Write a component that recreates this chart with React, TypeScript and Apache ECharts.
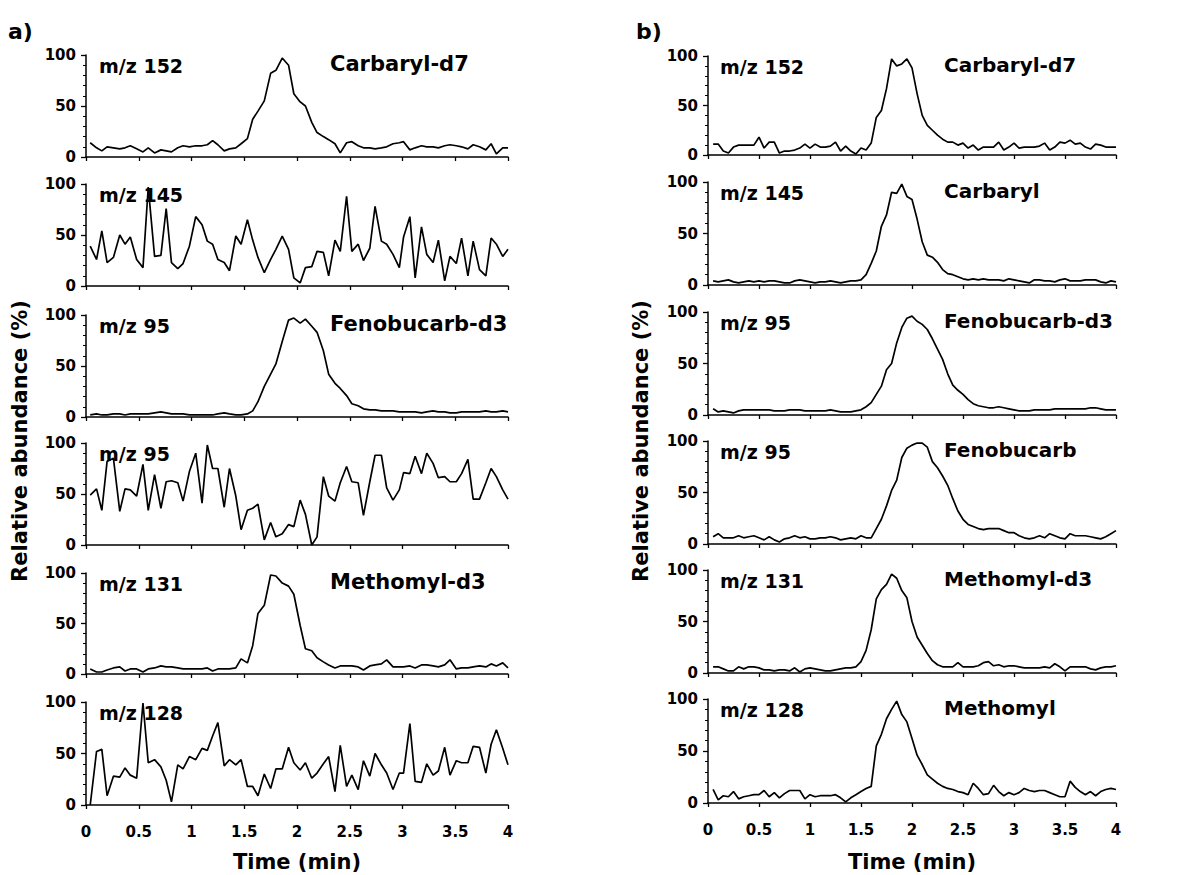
import React, { useEffect, useRef } from "react";
import * as echarts from "echarts";

// ---------- data ----------
// scan times (min) of the left column (a) and right column (b)
const leftTimes = [0.04,0.10,0.15,0.20,0.26,0.32,0.37,0.42,0.48,0.54,0.59,0.65,0.71,0.76,0.81,0.87,0.92,0.98,1.04,1.10,1.15,1.20,1.25,1.31,1.36,1.42,1.47,1.53,1.58,1.63,1.69,1.75,1.80,1.86,1.92,1.97,2.03,2.08,2.14,2.19,2.25,2.30,2.36,2.41,2.47,2.52,2.58,2.63,2.69,2.74,2.80,2.85,2.91,2.97,3.01,3.07,3.12,3.18,3.23,3.29,3.34,3.40,3.45,3.51,3.56,3.62,3.67,3.73,3.79,3.84,3.89,3.95,4.00];
const rightTimes = [0.05,0.10,0.15,0.20,0.25,0.30,0.35,0.40,0.45,0.50,0.55,0.60,0.65,0.70,0.75,0.80,0.85,0.90,0.95,1.00,1.05,1.10,1.15,1.20,1.25,1.30,1.35,1.40,1.45,1.50,1.55,1.60,1.65,1.70,1.75,1.80,1.85,1.90,1.95,2.00,2.05,2.10,2.15,2.20,2.25,2.30,2.35,2.40,2.45,2.50,2.55,2.60,2.65,2.70,2.75,2.80,2.85,2.90,2.95,3.00,3.05,3.10,3.15,3.20,3.25,3.30,3.35,3.40,3.45,3.50,3.55,3.60,3.65,3.70,3.75,3.80,3.85,3.90,3.95,4.00];

// a) control sample
const aMz152 = [14,9,6,10,9,8,9,11,8,5, 9,4,7,6,5,9,11,10,11,11, 12,16,12,6,8,9,13,18,37,45, 55,82,85,97,90,62,54,50,34,24, 20,17,13,4,14,15,11,9,9,8, 9,10,13,14,15,7,9,11,10,10, 9,11,12,11,10,8,12,10,7,13, 3,9,9];
const aMz145 = [39,26,54,23,28,50,41,48,26,18, 97,29,30,76,23,17,22,39,68,60, 44,41,26,23,15,49,41,65,45,28, 13,26,36,49,36,8,3,18,19,34, 33,10,45,34,88,34,41,25,37,78, 44,41,31,18,48,68,8,58,31,23, 45,5,29,22,47,10,44,16,10,47, 41,29,36];
const aMz95d = [2,3,2,2,3,3,2,3,3,3, 3,4,5,4,3,3,3,2,2,2, 2,2,3,4,3,2,2,3,6,15, 30,42,52,74,95,97,92,96,89,83, 65,42,33,28,21,13,11,8,7,7, 6,6,6,5,5,5,5,4,5,6, 5,5,4,4,5,5,5,5,6,5, 5,6,5];
const aMz95 = [49,55,34,82,85,33,55,54,48,79, 34,69,36,62,63,61,43,72,90,41, 98,75,75,37,75,48,15,34,36,40, 5,22,8,11,20,18,44,30,0,8, 67,48,43,61,77,62,61,29,62,88, 88,56,44,54,71,70,87,70,90,80, 66,67,62,62,70,84,45,45,61,75, 67,54,45];
const aMz131 = [5,2,2,4,6,7,3,5,5,2, 5,6,8,7,7,6,5,5,5,5, 6,3,5,5,5,6,15,11,28,60, 68,98,97,90,87,79,48,25,23,16, 12,9,6,8,8,8,7,4,8,9, 10,14,7,7,7,8,6,9,9,8, 7,9,14,5,6,6,7,8,7,10, 8,11,6];
const aMz128 = [0,52,54,9,28,27,36,29,26,99, 41,44,37,24,3,39,35,47,44,55, 53,67,80,38,44,39,44,18,18,9, 30,16,35,35,56,41,34,41,26,31, 40,47,13,58,18,29,15,43,28,50, 39,31,15,31,31,79,23,22,40,29, 33,56,29,43,41,41,57,56,31,59, 73,55,39];

// b) spiked sample
const bMz152 = [11,11,4,2,8,10,10,10,10,18, 7,13,13,2,4,4,5,7,11,7, 11,8,8,9,13,4,9,4,1,7, 5,12,38,45,67,97,90,92,97,88, 62,40,30,25,20,16,13,13,10,12, 7,10,5,8,8,8,13,5,8,12, 7,8,8,8,9,12,5,8,13,12, 15,11,12,8,6,11,10,8,8,8];
const bMz145 = [4,3,4,5,3,2,3,4,3,4, 3,4,4,3,2,2,4,5,4,3, 2,3,3,4,3,2,3,4,4,5, 10,21,33,57,68,90,89,98,86,83, 64,42,29,27,22,15,11,10,8,6, 5,6,5,6,5,5,5,4,6,5, 4,3,2,5,5,4,4,3,5,6, 4,4,4,5,5,5,3,2,4,3];
const bMz95d = [6,3,4,3,2,4,5,5,5,5, 5,5,4,4,4,5,5,5,4,4, 4,4,4,5,4,3,3,3,4,5, 8,12,20,28,44,50,70,85,94,96, 91,88,83,74,64,54,40,29,24,20, 15,11,9,8,7,7,8,7,6,5, 4,4,4,5,5,5,5,6,6,6, 6,6,6,6,7,7,6,5,5,5];
const bMz95 = [7,10,6,6,6,8,6,7,8,6, 4,7,4,2,5,6,8,6,7,5, 5,6,6,7,6,4,5,6,5,8, 6,6,15,24,37,52,62,84,93,96, 98,98,94,80,74,66,57,44,32,24, 19,17,15,14,15,15,15,13,11,11, 8,6,5,6,8,6,10,8,6,5, 10,8,8,8,7,6,5,7,10,13];
const bMz131 = [6,6,4,2,2,6,4,6,6,5, 3,3,2,3,3,2,5,1,4,5, 4,3,2,2,3,4,5,5,6,11, 22,42,72,81,86,96,92,80,73,50, 35,27,19,12,8,6,6,6,10,6, 6,6,7,10,11,7,8,6,7,7, 6,5,5,5,5,6,5,9,6,2, 6,6,6,6,4,3,5,6,6,7];
const bMz128 = [13,3,7,6,11,4,6,7,8,8, 12,6,10,5,9,12,12,12,4,8, 6,7,7,7,8,5,1,5,8,11, 14,16,55,66,81,90,98,85,78,62, 46,37,27,23,19,16,14,13,11,10, 8,19,14,8,9,17,11,7,10,8, 10,14,12,11,12,12,10,8,6,6, 21,15,11,8,11,7,11,13,14,13];

const leftIons = ["m/z 152", "m/z 145", "m/z 95", "m/z 95", "m/z 131", "m/z 128"];
const leftNames = ["Carbaryl-d7", "", "Fenobucarb-d3", "", "Methomyl-d3", ""];
const rightIons = ["m/z 152", "m/z 145", "m/z 95", "m/z 95", "m/z 131", "m/z 128"];
const rightNames = ["Carbaryl-d7", "Carbaryl", "Fenobucarb-d3", "Fenobucarb", "Methomyl-d3", "Methomyl"];

const xTickLabels = ["0", "0.5", "1", "1.5", "2", "2.5", "3", "3.5", "4"];
const yTickLabels = ["0", "50", "100"];
const panelLetters = ["a)", "b)"];
const yTitle = "Relative abundance (%)";
const xTitle = "Time (min)";

const FONT = "DejaVu Sans";

export default function App() {
  const ref = useRef<HTMLDivElement>(null);

  useEffect(() => {
    if (!ref.current) return;
    const chart = echarts.init(ref.current, null, { renderer: "svg" });

    const columns = [
      {
        times: leftTimes,
        values: [aMz152, aMz145, aMz95d, aMz95, aMz131, aMz128],
        ions: leftIons,
        names: leftNames,
        left: 86,
        width: 422,
        tops: [55, 184, 315, 443, 573, 702],
        heights: [102, 102, 102, 102, 101, 103],
        ionX: 99,
        nameX: 330,
        nameSize: 21,
        letterX: 8,
        yTitleX: 20,
      },
      {
        times: rightTimes,
        values: [bMz152, bMz145, bMz95d, bMz95, bMz131, bMz128],
        ions: rightIons,
        names: rightNames,
        left: 708,
        width: 408,
        tops: [56, 182, 312, 441, 570, 699],
        heights: [99, 103, 103, 103, 103, 104],
        ionX: 720,
        nameX: 944,
        nameSize: 20,
        letterX: 636,
        yTitleX: 641,
      },
    ];

    const grid: any[] = [];
    const xAxis: any[] = [];
    const yAxis: any[] = [];
    const series: any[] = [];
    const elements: any[] = [];
    const black = "#000";

    columns.forEach((col, c) => {
      col.values.forEach((vals, r) => {
        const idx = grid.length;
        const bottomRow = r === col.values.length - 1;
        grid.push({ left: col.left, top: col.tops[r], width: col.width, height: col.heights[r] });
        xAxis.push({
          gridIndex: idx,
          type: "value",
          min: 0,
          max: 4,
          interval: 0.5,
          axisLine: { show: true, onZero: false, lineStyle: { color: black, width: 1.5 } },
          axisTick: { show: true, length: 4, lineStyle: { color: black, width: 1.3 } },
          splitLine: { show: false },
          axisLabel: {
            show: bottomRow,
            showMinLabel: true,
            showMaxLabel: true,
            margin: 19,
            color: black,
            fontFamily: FONT,
            fontWeight: "bold",
            fontSize: 15,
            formatter: (v: number) => xTickLabels[Math.round(v * 2)] ?? "",
          },
        });
        yAxis.push({
          gridIndex: idx,
          type: "value",
          min: 0,
          max: 100,
          interval: 50,
          axisLine: { show: true, lineStyle: { color: black, width: 1.5 } },
          axisTick: { show: true, length: 5, lineStyle: { color: black, width: 1.3 } },
          minorTick: { show: true, splitNumber: 5, length: 3, lineStyle: { color: black, width: 1 } },
          splitLine: { show: false },
          axisLabel: {
            margin: 10,
            color: black,
            fontFamily: FONT,
            fontWeight: "bold",
            fontSize: 15,
            formatter: (v: number) => yTickLabels[Math.round(v / 50)] ?? "",
          },
        });
        series.push({
          type: "line",
          xAxisIndex: idx,
          yAxisIndex: idx,
          symbol: "none",
          showSymbol: false,
          lineStyle: { color: black, width: 1.7 },
          data: col.times.map((t, j) => [t, vals[j]]),
        });
        elements.push({
          type: "text",
          x: col.ionX,
          y: col.tops[r] + 11,
          style: {
            text: col.ions[r],
            fill: black,
            fontFamily: FONT,
            fontWeight: "bold",
            fontSize: 19,
            align: "left",
            verticalAlign: "middle",
          },
        });
        if (col.names[r]) {
          elements.push({
            type: "text",
            x: col.nameX,
            y: col.tops[r] + 9,
            style: {
              text: col.names[r],
              fill: black,
              fontFamily: FONT,
              fontWeight: "bold",
              fontSize: col.nameSize,
              align: "left",
              verticalAlign: "middle",
            },
          });
        }
      });

      elements.push({
        type: "text",
        x: col.letterX,
        y: 31,
        style: {
          text: panelLetters[c],
          fill: black,
          fontFamily: FONT,
          fontWeight: "bold",
          fontSize: 22,
          align: "left",
          verticalAlign: "middle",
        },
      });
      elements.push({
        type: "text",
        x: col.yTitleX,
        y: 441,
        rotation: Math.PI / 2,
        style: {
          text: yTitle,
          fill: black,
          fontFamily: FONT,
          fontWeight: "bold",
          fontSize: 21,
          align: "center",
          verticalAlign: "middle",
        },
      });
      elements.push({
        type: "text",
        x: col.left + col.width / 2,
        y: 862,
        style: {
          text: xTitle,
          fill: black,
          fontFamily: FONT,
          fontWeight: "bold",
          fontSize: 21,
          align: "center",
          verticalAlign: "middle",
        },
      });
    });

    chart.setOption({
      animation: false,
      backgroundColor: "#fff",
      textStyle: { fontFamily: FONT },
      grid,
      xAxis,
      yAxis,
      series,
      graphic: { elements },
    });

    return () => {
      chart.dispose();
    };
  }, []);

  return (
    <div
      ref={ref}
      style={{ position: "absolute", left: 0, top: 0, width: 1183, height: 875 }}
    />
  );
}
